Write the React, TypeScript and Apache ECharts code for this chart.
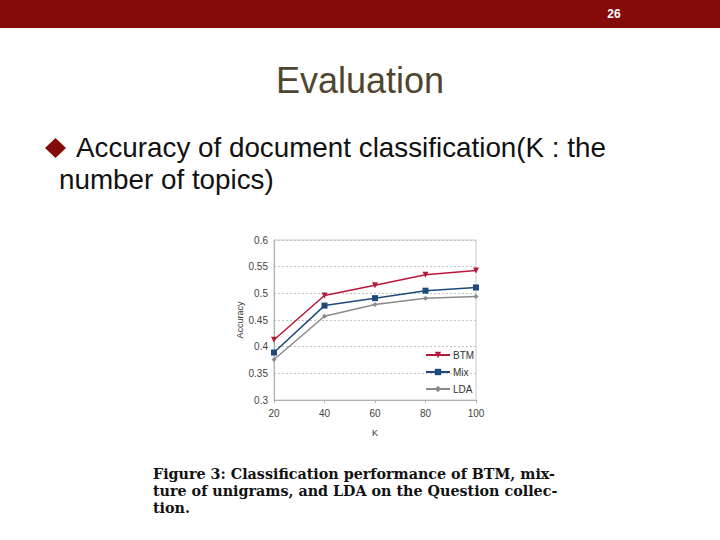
import React, { useEffect, useRef } from "react";
import * as echarts from "echarts";

const kValues = [20, 40, 60, 80, 100];
const btm = [0.413, 0.496, 0.515, 0.535, 0.543];
const mix = [0.389, 0.477, 0.491, 0.505, 0.511];
const lda = [0.376, 0.457, 0.479, 0.491, 0.494];
const seriesNames = ["BTM", "Mix", "LDA"];
const slideTitle = "Evaluation";
const bulletLine1 = "Accuracy of document classification(K : the";
const bulletLine2 = "number of topics)";
const captionLines = [
  "Figure 3: Classification performance of BTM, mix-",
  "ture of unigrams, and LDA on the Question collec-",
  "tion.",
];
const pageNumber = "26";

export default function App() {
  const ref = useRef<HTMLDivElement>(null);
  useEffect(() => {
    document.body.style.margin = "0";
    const chart = echarts.init(ref.current!, null, { renderer: "svg" });
    const pair = (vals: number[]) => kValues.map((k, i) => [k, vals[i]]);
    const sans = "Liberation Sans, Arial, sans-serif";
    chart.setOption({
      animation: false,
      backgroundColor: "#ffffff",
      textStyle: { fontFamily: sans },
      graphic: [
        { type: "rect", shape: { x: 0, y: 0, width: 720, height: 28 }, style: { fill: "#850a0a" } },
        { type: "text", x: 614, y: 14, style: { text: pageNumber, fill: "#ffffff", font: "bold 12px " + sans, align: "center", verticalAlign: "middle" } },
        { type: "text", x: 360, y: 80, style: { text: slideTitle, fill: "#4f4630", font: "36px " + sans, align: "center", verticalAlign: "middle" } },
        { type: "polygon", shape: { points: [[55.5, 138], [66, 148], [55.5, 158], [45, 148]] }, style: { fill: "#850a0a" } },
        { type: "text", x: 76, y: 147, style: { text: bulletLine1, fill: "#111111", font: "27.8px " + sans, verticalAlign: "middle" } },
        { type: "text", x: 59, y: 179.5, style: { text: bulletLine2, fill: "#111111", font: "27.8px " + sans, verticalAlign: "middle" } },
        ...captionLines.map((t, i) => ({
          type: "text",
          x: 153,
          y: 474 + i * 17,
          style: { text: t, fill: "#111111", font: "bold 14.3px 'DejaVu Serif', serif", verticalAlign: "middle" },
        })),
      ],
      grid: { left: 274, top: 240, width: 202, height: 160, show: true, borderColor: "#c8c8c8", borderWidth: 1 },
      legend: {
        orient: "vertical",
        left: 420,
        top: 345,
        itemWidth: 24,
        itemHeight: 8,
        itemGap: 7,
        textStyle: { fontSize: 10, color: "#333", fontFamily: sans, padding: [0, 0, 0, -2] },
        data: seriesNames,
      },
      xAxis: {
        type: "value",
        min: 20,
        max: 100,
        interval: 20,
        name: "K",
        nameLocation: "middle",
        nameGap: 28,
        nameTextStyle: { fontSize: 9, color: "#333" },
        axisLine: { show: true, lineStyle: { color: "#b0b0b0" } },
        axisTick: { show: true, length: 3, lineStyle: { color: "#b0b0b0" } },
        axisLabel: { fontSize: 10, color: "#444", margin: 8 },
        splitLine: { show: false },
      },
      yAxis: {
        type: "value",
        min: 0.3,
        max: 0.6,
        interval: 0.05,
        name: "Accuracy",
        nameLocation: "middle",
        nameGap: 27,
        nameTextStyle: { fontSize: 9, color: "#333" },
        axisLine: { show: true, lineStyle: { color: "#b0b0b0" } },
        axisTick: { show: false },
        axisLabel: { fontSize: 10, color: "#444", margin: 6, formatter: (v: number) => String(+v.toFixed(2)) },
        splitLine: { show: true, lineStyle: { color: "#c4c4c4", type: [2, 2] } },
      },
      series: [
        {
          name: seriesNames[0], type: "line", data: pair(btm), symbol: "triangle", symbolRotate: 180, symbolSize: 6,
          lineStyle: { color: "#b8183a", width: 1.5 }, itemStyle: { color: "#b8183a" },
        },
        {
          name: seriesNames[1], type: "line", data: pair(mix), symbol: "rect", symbolSize: 6,
          lineStyle: { color: "#1d4a7a", width: 1.5 }, itemStyle: { color: "#1d4a7a" },
        },
        {
          name: seriesNames[2], type: "line", data: pair(lda), symbol: "diamond", symbolSize: 5,
          lineStyle: { color: "#8a8a8a", width: 1.5 }, itemStyle: { color: "#8a8a8a" },
        },
      ],
    });
    return () => chart.dispose();
  }, []);
  return <div ref={ref} style={{ position: "fixed", left: 0, top: 0, width: 720, height: 540 }} />;
}
